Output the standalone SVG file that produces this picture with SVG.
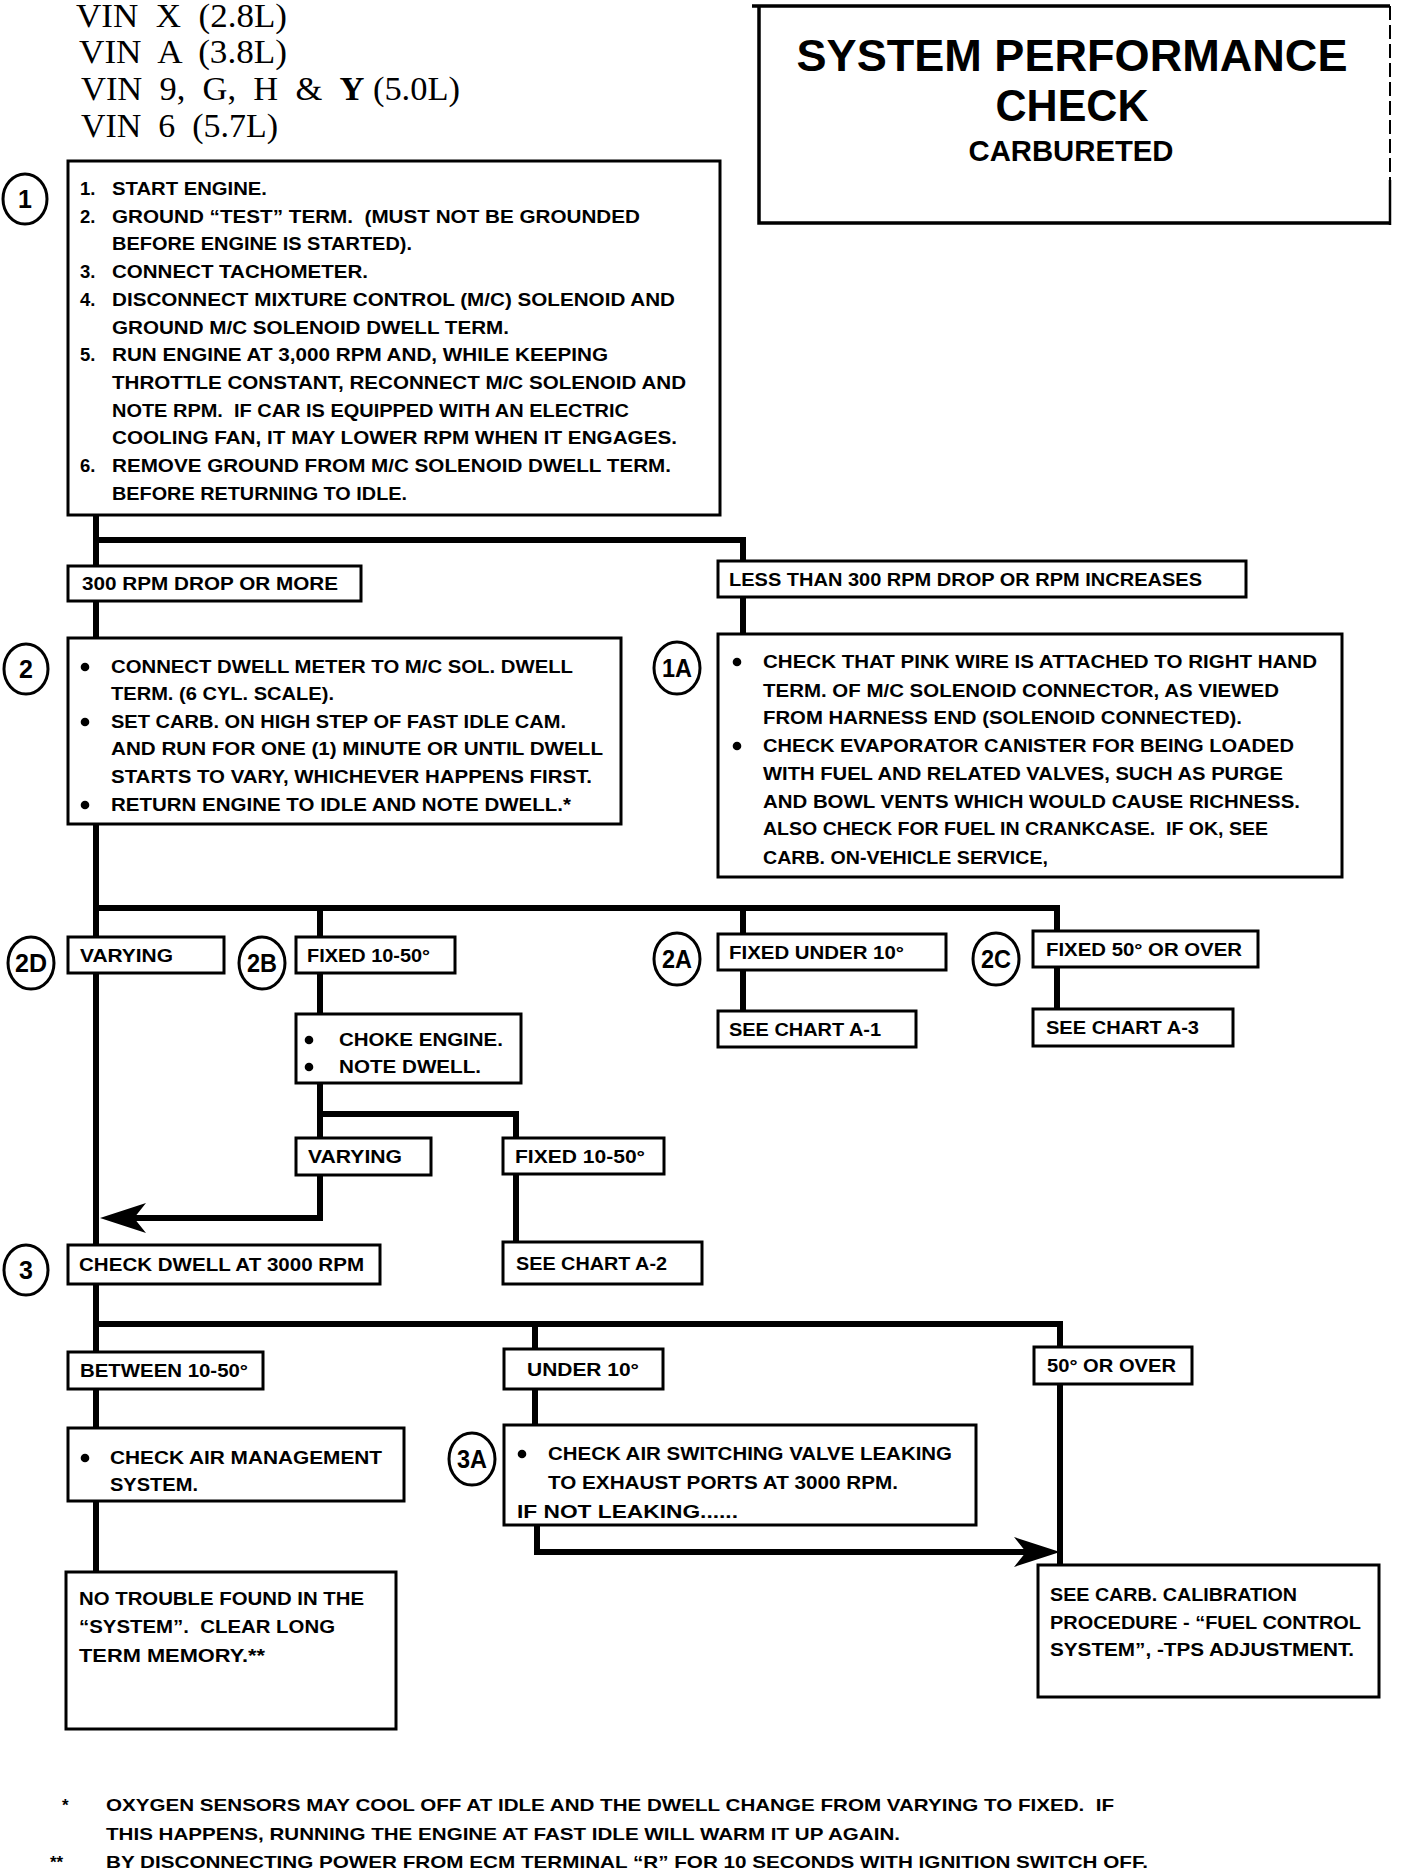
<svg xmlns="http://www.w3.org/2000/svg" width="1408" height="1874" viewBox="0 0 1408 1874">
<style>
.bg{fill:#fff}
.box{fill:#fff;stroke:#000;stroke-width:3}
.ln{fill:none;stroke:#000;stroke-width:6;stroke-linejoin:miter;stroke-linecap:butt}
.ah{fill:#000}
.t{font-family:"Liberation Sans",Arial,sans-serif;font-weight:bold;font-size:18.5px;fill:#000}
.fn{font-family:"Liberation Sans",Arial,sans-serif;font-weight:bold;font-size:17px;fill:#000}
.c{fill:#fff;stroke:#000;stroke-width:3}
.cl{font-family:"Liberation Sans",Arial,sans-serif;font-weight:bold;font-size:25px;text-anchor:middle;fill:#000}
.serif{font-family:"Liberation Serif","Times New Roman",serif;font-size:33px;fill:#000}
.title{font-family:"Liberation Sans",Arial,sans-serif;font-weight:bold;text-anchor:middle;fill:#000}
</style>
<defs>
<circle id="dot" cx="0" cy="0" r="4.3" fill="#000"/>
</defs>
<rect class="bg" x="0" y="0" width="1408" height="1874"/>

<g id="header">
<text class="serif" x="76" y="27" textLength="211" lengthAdjust="spacingAndGlyphs" xml:space="preserve">VIN  X  (2.8L)</text>
<text class="serif" x="79" y="63" textLength="208" lengthAdjust="spacingAndGlyphs" xml:space="preserve">VIN  A  (3.8L)</text>
<text class="serif" x="81" y="100" textLength="379" lengthAdjust="spacingAndGlyphs" xml:space="preserve">VIN  9,  G,  H  &amp;  <tspan font-weight="bold">Y</tspan> (5.0L)</text>
<text class="serif" x="81" y="137" textLength="197" lengthAdjust="spacingAndGlyphs" xml:space="preserve">VIN  6  (5.7L)</text>
</g>

<g id="title">
<rect x="759" y="6" width="631" height="217" fill="#fff" stroke="none"/>
<path d="M752,6 H1390 M759,6 V223 H1390" fill="none" stroke="#000" stroke-width="3.5"/>
<path d="M1390,6 V180" fill="none" stroke="#000" stroke-width="2" stroke-dasharray="14,5"/>
<path d="M1390,180 V225" fill="none" stroke="#000" stroke-width="2.5"/>
<text class="title" x="1072" y="71" font-size="44" textLength="551" lengthAdjust="spacingAndGlyphs">SYSTEM PERFORMANCE</text>
<text class="title" x="1072" y="121" font-size="44" textLength="153" lengthAdjust="spacingAndGlyphs">CHECK</text>
<text class="title" x="1071" y="161" font-size="30" textLength="205" lengthAdjust="spacingAndGlyphs">CARBURETED</text>
</g>

<g id="connectors">
<path class="ln" d="M96,513 V1572"/>
<path class="ln" d="M96,540 H743 V634"/>
<path class="ln" d="M96,908 H1057 V1009"/>
<path class="ln" d="M743,908 V1011"/>
<path class="ln" d="M320,908 V1014"/>
<path class="ln" d="M320,1083 V1138"/>
<path class="ln" d="M320,1114 H516 V1242"/>
<path class="ln" d="M320,1175 V1218 H132"/>
<path class="ah" d="M100,1218 L146,1203 L134,1218 L146,1233 Z"/>
<path class="ln" d="M96,1324 H1060 V1565"/>
<path class="ln" d="M535,1324 V1425"/>
<path class="ln" d="M537,1525 V1552 H1028"/>
<path class="ah" d="M1060,1552 L1014,1537 L1026,1552 L1014,1567 Z"/>
</g>

<g id="n1">
<rect class="box" x="68" y="161" width="652" height="354"/>
<ellipse class="c" cx="25" cy="199" rx="22" ry="25"/>
<text class="cl" x="25" y="208">1</text>
<text class="t" x="80" y="195">1.</text>
<text class="t" x="112" y="195" textLength="155" lengthAdjust="spacingAndGlyphs">START ENGINE.</text>
<text class="t" x="80" y="222.7">2.</text>
<text class="t" x="112" y="222.7" textLength="528" lengthAdjust="spacingAndGlyphs" xml:space="preserve">GROUND “TEST” TERM.  (MUST NOT BE GROUNDED</text>
<text class="t" x="112" y="250.4" textLength="300" lengthAdjust="spacingAndGlyphs">BEFORE ENGINE IS STARTED).</text>
<text class="t" x="80" y="278.1">3.</text>
<text class="t" x="112" y="278.1" textLength="256" lengthAdjust="spacingAndGlyphs">CONNECT TACHOMETER.</text>
<text class="t" x="80" y="305.8">4.</text>
<text class="t" x="112" y="305.8" textLength="563" lengthAdjust="spacingAndGlyphs">DISCONNECT MIXTURE CONTROL (M/C) SOLENOID AND</text>
<text class="t" x="112" y="333.5" textLength="397" lengthAdjust="spacingAndGlyphs">GROUND M/C SOLENOID DWELL TERM.</text>
<text class="t" x="80" y="361.2">5.</text>
<text class="t" x="112" y="361.2" textLength="496" lengthAdjust="spacingAndGlyphs">RUN ENGINE AT 3,000 RPM AND, WHILE KEEPING</text>
<text class="t" x="112" y="388.9" textLength="574" lengthAdjust="spacingAndGlyphs">THROTTLE CONSTANT, RECONNECT M/C SOLENOID AND</text>
<text class="t" x="112" y="416.6" textLength="517" lengthAdjust="spacingAndGlyphs" xml:space="preserve">NOTE RPM.  IF CAR IS EQUIPPED WITH AN ELECTRIC</text>
<text class="t" x="112" y="444.3" textLength="565" lengthAdjust="spacingAndGlyphs">COOLING FAN, IT MAY LOWER RPM WHEN IT ENGAGES.</text>
<text class="t" x="80" y="472">6.</text>
<text class="t" x="112" y="472" textLength="559" lengthAdjust="spacingAndGlyphs">REMOVE GROUND FROM M/C SOLENOID DWELL TERM.</text>
<text class="t" x="112" y="499.7" textLength="295" lengthAdjust="spacingAndGlyphs">BEFORE RETURNING TO IDLE.</text>
</g>

<g id="l300">
<rect class="box" x="68" y="566" width="293" height="35"/>
<text class="t" x="82" y="590" textLength="256" lengthAdjust="spacingAndGlyphs">300 RPM DROP OR MORE</text>
</g>
<g id="lless">
<rect class="box" x="718" y="561" width="528" height="36"/>
<text class="t" x="729" y="586" textLength="473" lengthAdjust="spacingAndGlyphs">LESS THAN 300 RPM DROP OR RPM INCREASES</text>
</g>

<g id="n2">
<rect class="box" x="68" y="638" width="553" height="186"/>
<ellipse class="c" cx="26" cy="669" rx="22" ry="25"/>
<text class="cl" x="26" y="678">2</text>
<use href="#dot" x="85" y="667"/>
<text class="t" x="111" y="673" textLength="462" lengthAdjust="spacingAndGlyphs">CONNECT DWELL METER TO M/C SOL. DWELL</text>
<text class="t" x="111" y="700" textLength="223" lengthAdjust="spacingAndGlyphs">TERM. (6 CYL. SCALE).</text>
<use href="#dot" x="85" y="722"/>
<text class="t" x="111" y="728" textLength="455" lengthAdjust="spacingAndGlyphs">SET CARB. ON HIGH STEP OF FAST IDLE CAM.</text>
<text class="t" x="111" y="755" textLength="492" lengthAdjust="spacingAndGlyphs">AND RUN FOR ONE (1) MINUTE OR UNTIL DWELL</text>
<text class="t" x="111" y="783" textLength="481" lengthAdjust="spacingAndGlyphs">STARTS TO VARY, WHICHEVER HAPPENS FIRST.</text>
<use href="#dot" x="85" y="805"/>
<text class="t" x="111" y="811" textLength="460" lengthAdjust="spacingAndGlyphs">RETURN ENGINE TO IDLE AND NOTE DWELL.*</text>
</g>

<g id="n1a">
<rect class="box" x="718" y="634" width="624" height="243"/>
<ellipse class="c" cx="677" cy="668" rx="23" ry="26"/>
<text class="cl" x="677" y="677" textLength="30" lengthAdjust="spacingAndGlyphs">1A</text>
<use href="#dot" x="737" y="662"/>
<text class="t" x="763" y="668" textLength="554" lengthAdjust="spacingAndGlyphs">CHECK THAT PINK WIRE IS ATTACHED TO RIGHT HAND</text>
<text class="t" x="763" y="697" textLength="516" lengthAdjust="spacingAndGlyphs">TERM. OF M/C SOLENOID CONNECTOR, AS VIEWED</text>
<text class="t" x="763" y="724" textLength="479" lengthAdjust="spacingAndGlyphs">FROM HARNESS END (SOLENOID CONNECTED).</text>
<use href="#dot" x="737" y="746"/>
<text class="t" x="763" y="752" textLength="531" lengthAdjust="spacingAndGlyphs">CHECK EVAPORATOR CANISTER FOR BEING LOADED</text>
<text class="t" x="763" y="780" textLength="520" lengthAdjust="spacingAndGlyphs">WITH FUEL AND RELATED VALVES, SUCH AS PURGE</text>
<text class="t" x="763" y="808" textLength="537" lengthAdjust="spacingAndGlyphs">AND BOWL VENTS WHICH WOULD CAUSE RICHNESS.</text>
<text class="t" x="763" y="835" textLength="505" lengthAdjust="spacingAndGlyphs" xml:space="preserve">ALSO CHECK FOR FUEL IN CRANKCASE.  IF OK, SEE</text>
<text class="t" x="763" y="864" textLength="285" lengthAdjust="spacingAndGlyphs">CARB. ON-VEHICLE SERVICE,</text>
</g>

<g id="n2d">
<ellipse class="c" cx="31" cy="963" rx="23" ry="26"/>
<text class="cl" x="31" y="972" textLength="32" lengthAdjust="spacingAndGlyphs">2D</text>
<rect class="box" x="68" y="937" width="156" height="36"/>
<text class="t" x="80" y="962" textLength="93" lengthAdjust="spacingAndGlyphs">VARYING</text>
</g>
<g id="n2b">
<ellipse class="c" cx="262" cy="963" rx="23" ry="26"/>
<text class="cl" x="262" y="972" textLength="30" lengthAdjust="spacingAndGlyphs">2B</text>
<rect class="box" x="296" y="937" width="159" height="36"/>
<text class="t" x="307" y="962" textLength="123" lengthAdjust="spacingAndGlyphs">FIXED 10-50°</text>
</g>
<g id="n2a">
<ellipse class="c" cx="677" cy="959" rx="23" ry="26"/>
<text class="cl" x="677" y="968" textLength="30" lengthAdjust="spacingAndGlyphs">2A</text>
<rect class="box" x="718" y="934" width="228" height="36"/>
<text class="t" x="729" y="959" textLength="175" lengthAdjust="spacingAndGlyphs">FIXED UNDER 10°</text>
</g>
<g id="n2c">
<ellipse class="c" cx="996" cy="959" rx="23" ry="26"/>
<text class="cl" x="996" y="968" textLength="30" lengthAdjust="spacingAndGlyphs">2C</text>
<rect class="box" x="1033" y="931" width="225" height="36"/>
<text class="t" x="1046" y="956" textLength="196" lengthAdjust="spacingAndGlyphs">FIXED 50° OR OVER</text>
</g>
<g id="na1">
<rect class="box" x="718" y="1011" width="198" height="36"/>
<text class="t" x="729" y="1036" textLength="152" lengthAdjust="spacingAndGlyphs">SEE CHART A-1</text>
</g>
<g id="na3">
<rect class="box" x="1033" y="1009" width="200" height="37"/>
<text class="t" x="1046" y="1034" textLength="153" lengthAdjust="spacingAndGlyphs">SEE CHART A-3</text>
</g>

<g id="nchoke">
<rect class="box" x="296" y="1014" width="225" height="69"/>
<use href="#dot" x="309" y="1040"/>
<text class="t" x="339" y="1046" textLength="164" lengthAdjust="spacingAndGlyphs">CHOKE ENGINE.</text>
<use href="#dot" x="309" y="1067"/>
<text class="t" x="339" y="1073" textLength="142" lengthAdjust="spacingAndGlyphs">NOTE DWELL.</text>
</g>
<g id="nvar2">
<rect class="box" x="296" y="1138" width="135" height="37"/>
<text class="t" x="308" y="1163" textLength="94" lengthAdjust="spacingAndGlyphs">VARYING</text>
</g>
<g id="nfix2">
<rect class="box" x="503" y="1138" width="161" height="36"/>
<text class="t" x="515" y="1163" textLength="130" lengthAdjust="spacingAndGlyphs">FIXED 10-50°</text>
</g>
<g id="na2">
<rect class="box" x="503" y="1242" width="199" height="42"/>
<text class="t" x="516" y="1270" textLength="151" lengthAdjust="spacingAndGlyphs">SEE CHART A-2</text>
</g>

<g id="n3">
<ellipse class="c" cx="26" cy="1270" rx="22" ry="25"/>
<text class="cl" x="26" y="1279">3</text>
<rect class="box" x="68" y="1245" width="312" height="39"/>
<text class="t" x="79" y="1271" textLength="285" lengthAdjust="spacingAndGlyphs">CHECK DWELL AT 3000 RPM</text>
</g>

<g id="nbetween">
<rect class="box" x="68" y="1352" width="195" height="37"/>
<text class="t" x="80" y="1377" textLength="168" lengthAdjust="spacingAndGlyphs">BETWEEN 10-50°</text>
</g>
<g id="nunder">
<rect class="box" x="504" y="1349" width="159" height="40"/>
<text class="t" x="527" y="1376" textLength="112" lengthAdjust="spacingAndGlyphs">UNDER 10°</text>
</g>
<g id="nover">
<rect class="box" x="1034" y="1347" width="158" height="37"/>
<text class="t" x="1047" y="1372" textLength="129" lengthAdjust="spacingAndGlyphs">50° OR OVER</text>
</g>

<g id="nair">
<rect class="box" x="68" y="1428" width="336" height="73"/>
<use href="#dot" x="85" y="1458"/>
<text class="t" x="110" y="1464" textLength="272" lengthAdjust="spacingAndGlyphs">CHECK AIR MANAGEMENT</text>
<text class="t" x="110" y="1491" textLength="88" lengthAdjust="spacingAndGlyphs">SYSTEM.</text>
</g>

<g id="n3a">
<ellipse class="c" cx="472" cy="1459" rx="23" ry="26"/>
<text class="cl" x="472" y="1468" textLength="30" lengthAdjust="spacingAndGlyphs">3A</text>
<rect class="box" x="504" y="1425" width="472" height="100"/>
<use href="#dot" x="522" y="1454"/>
<text class="t" x="548" y="1460" textLength="404" lengthAdjust="spacingAndGlyphs">CHECK AIR SWITCHING VALVE LEAKING</text>
<text class="t" x="548" y="1489" textLength="350" lengthAdjust="spacingAndGlyphs">TO EXHAUST PORTS AT 3000 RPM.</text>
<text class="t" x="517" y="1518" textLength="221" lengthAdjust="spacingAndGlyphs">IF NOT LEAKING......</text>
</g>

<g id="ncarb">
<rect class="box" x="1038" y="1565" width="341" height="132"/>
<text class="t" x="1050" y="1601" textLength="247" lengthAdjust="spacingAndGlyphs">SEE CARB. CALIBRATION</text>
<text class="t" x="1050" y="1629" textLength="311" lengthAdjust="spacingAndGlyphs">PROCEDURE - “FUEL CONTROL</text>
<text class="t" x="1050" y="1656" textLength="304" lengthAdjust="spacingAndGlyphs">SYSTEM”, -TPS ADJUSTMENT.</text>
</g>

<g id="nntf">
<rect class="box" x="66" y="1572" width="330" height="157"/>
<text class="t" x="79" y="1605" textLength="285" lengthAdjust="spacingAndGlyphs">NO TROUBLE FOUND IN THE</text>
<text class="t" x="79" y="1633" textLength="256" lengthAdjust="spacingAndGlyphs" xml:space="preserve">“SYSTEM”.  CLEAR LONG</text>
<text class="t" x="79" y="1662" textLength="186" lengthAdjust="spacingAndGlyphs">TERM MEMORY.**</text>
</g>

<g id="footnotes">
<text class="fn" x="62" y="1811">*</text>
<text class="fn" x="106" y="1811" textLength="1008" lengthAdjust="spacingAndGlyphs" xml:space="preserve">OXYGEN SENSORS MAY COOL OFF AT IDLE AND THE DWELL CHANGE FROM VARYING TO FIXED.  IF</text>
<text class="fn" x="106" y="1840" textLength="794" lengthAdjust="spacingAndGlyphs">THIS HAPPENS, RUNNING THE ENGINE AT FAST IDLE WILL WARM IT UP AGAIN.</text>
<text class="fn" x="50" y="1868">**</text>
<text class="fn" x="106" y="1868" textLength="1042" lengthAdjust="spacingAndGlyphs">BY DISCONNECTING POWER FROM ECM TERMINAL “R” FOR 10 SECONDS WITH IGNITION SWITCH OFF.</text>
</g>
</svg>
